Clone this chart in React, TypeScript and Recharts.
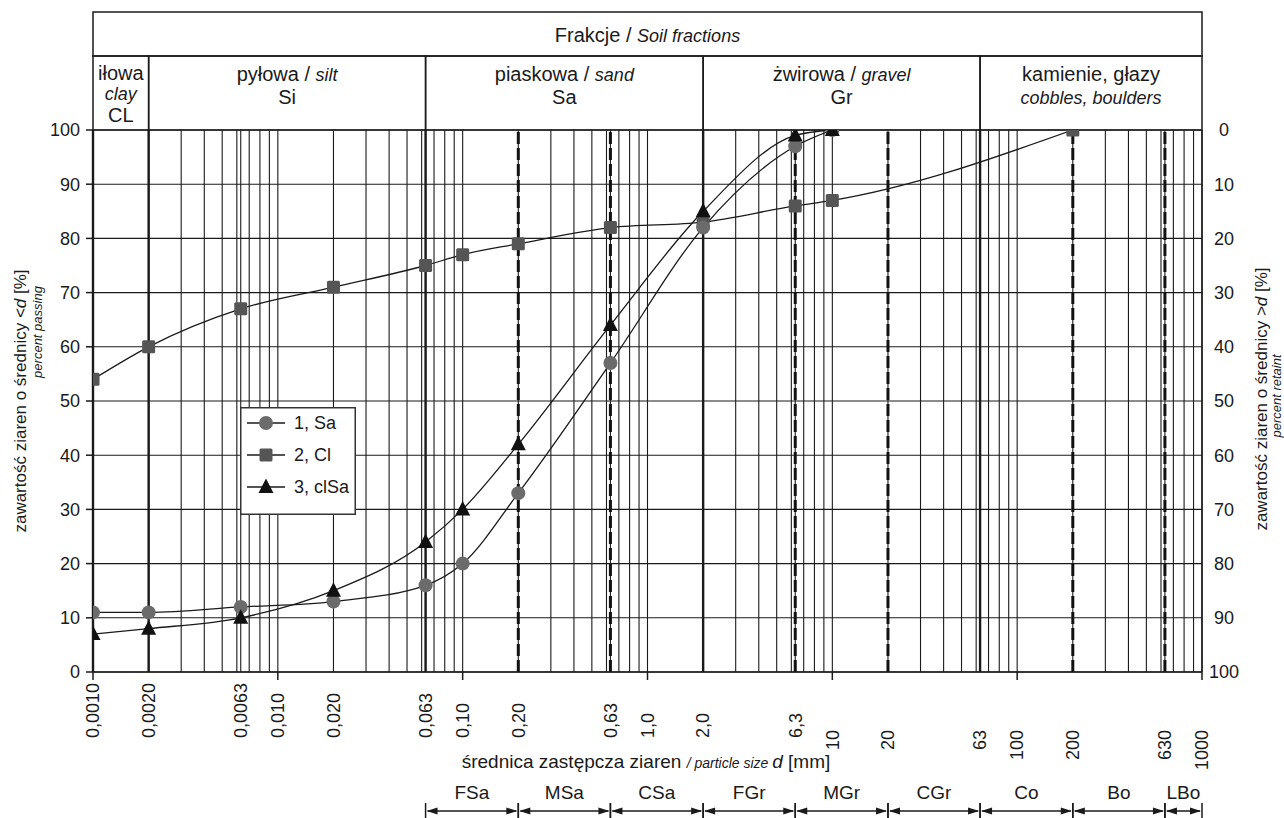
import React from "react";
import { ComposedChart, Line, XAxis, YAxis, CartesianGrid, ReferenceLine, ReferenceArea, Legend } from "recharts";

const FONT = "'Liberation Sans', Arial, Helvetica, sans-serif";
const INK = "#1a1a1a";

// particle size d [mm] and percent passing, one pair of arrays per sample
const sizes1 = [0.001, 0.002, 0.0063, 0.02, 0.063, 0.1, 0.2, 0.63, 2, 6.3, 10];
const passing1 = [11, 11, 12, 13, 16, 20, 33, 57, 82, 97, 100];

const sizes2 = [0.001, 0.002, 0.0063, 0.02, 0.063, 0.1, 0.2, 0.63, 2, 6.3, 10, 200];
const passing2 = [54, 60, 67, 71, 75, 77, 79, 82, 83, 86, 87, 100];

const sizes3 = [0.001, 0.002, 0.0063, 0.02, 0.063, 0.1, 0.2, 0.63, 2, 6.3, 10];
const passing3 = [7, 8, 10, 15, 24, 30, 42, 64, 85, 99, 100];

const seriesNames = ["1, Sa", "2, Cl", "3, clSa"];

// x axis labels
const tickValues = [0.001, 0.002, 0.0063, 0.01, 0.02, 0.063, 0.1, 0.2, 0.63, 1, 2, 6.3, 10, 20, 63, 100, 200, 630, 1000];
const tickLabels = ["0,0010", "0,0020", "0,0063", "0,010", "0,020", "0,063", "0,10", "0,20", "0,63", "1,0", "2,0", "6,3", "10", "20", "63", "100", "200", "630", "1000"];
const decadeValues = [0.001, 0.01, 0.1, 1, 10, 100, 1000];
const decadeSteps = [1, 2, 3, 4, 5, 6, 7, 8, 9];
const percentTicks = [0, 10, 20, 30, 40, 50, 60, 70, 80, 90, 100];

// soil fraction table (header) and sub-fractions (footer)
const fractionBounds = [0.001, 0.002, 0.063, 2, 63, 1000];
const fractionLabels: [string, string][][] = [
  [["iłowa", ""], ["", "clay"], ["CL", ""]],
  [["pyłowa / ", "silt"], ["Si", ""]],
  [["piaskowa / ", "sand"], ["Sa", ""]],
  [["żwirowa / ", "gravel"], ["Gr", ""]],
  [["kamienie, głazy", ""], ["", "cobbles, boulders"]],
];
const subBounds = [0.063, 0.2, 0.63, 2, 6.3, 20, 63, 200, 630, 1000];
const subLabels = ["FSa", "MSa", "CSa", "FGr", "MGr", "CGr", "Co", "Bo", "LBo"];
const dashedValues = [0.2, 0.63, 6.3, 20, 200, 630];

const gridValues = decadeValues
  .slice(0, 6)
  .flatMap((d) => decadeSteps.map((k) => +(k * d).toPrecision(3)))
  .concat([1000]);
const allTicks = Array.from(new Set([...gridValues, ...tickValues])).sort((a, b) => a - b);

const toRows = (xs: number[], ys: number[]) => xs.map((d, i) => ({ d, p: ys[i] }));
const data1 = toRows(sizes1, passing1);
const data2 = toRows(sizes2, passing2);
const data3 = toRows(sizes3, passing3);

const same = (a: number, b: number) => Math.abs(a - b) / b < 1e-6;

function Marker({ kind, cx, cy }: { kind: number; cx: number; cy: number }) {
  if (kind === 0) return <circle cx={cx} cy={cy} r={7} fill="#6b6b6b" />;
  if (kind === 1) return <rect x={cx - 6.5} y={cy - 6.5} width={13} height={13} rx={1.5} fill="#555" />;
  return <path d={`M${cx},${cy - 8.5} L${cx + 7.5},${cy + 6} L${cx - 7.5},${cy + 6} Z`} fill="#111" />;
}

const XTick = (p: any) => {
  const { x, y, payload } = p;
  const v = payload.value;
  const i = tickValues.findIndex((t) => same(v, t));
  const decade = decadeValues.some((t) => same(v, t));
  const ty = v < 10 ? y + 66 : y + 58;
  return (
    <g>
      {decade && <line x1={x} x2={x} y1={y} y2={y + 8} stroke={INK} strokeWidth={1.5} />}
      {i >= 0 && (
        <text
          x={x}
          y={ty}
          dy="0.35em"
          transform={`rotate(-90 ${x} ${ty})`}
          textAnchor={v < 10 ? "start" : "end"}
          fontSize={18}
          fontFamily={FONT}
          fill={INK}
        >
          {tickLabels[i]}
        </text>
      )}
    </g>
  );
};

const LeftTick = (p: any) => (
  <g>
    <line x1={p.x - 7} x2={p.x} y1={p.y} y2={p.y} stroke={INK} strokeWidth={1.5} />
    <text x={p.x - 13} y={p.y} dy="0.36em" textAnchor="end" fontSize={18} fontFamily={FONT} fill={INK}>
      {p.payload.value}
    </text>
  </g>
);

const RightTick = (p: any) => (
  <text x={p.x + 22} y={p.y} dy="0.36em" textAnchor="middle" fontSize={18} fontFamily={FONT} fill={INK}>
    {p.payload.value}
  </text>
);

const headerCell = (i: number) => (p: any) => {
  const { x, y, width } = p;
  const top = y - 74;
  const lines = fractionLabels[i];
  const base = lines.length === 3 ? [24, 44, 66] : [25, 48];
  return (
    <g>
      <rect x={x} y={top} width={width} height={74} fill="none" stroke={INK} strokeWidth={1.5} />
      {lines.map(([n, it], j) => (
        <text key={j} x={x + width / 2} y={top + base[j]} textAnchor="middle" fontSize={20} fontFamily={FONT} fill={INK}>
          {n}
          {it && (
            <tspan fontStyle="italic" fontSize={18}>
              {it}
            </tspan>
          )}
        </text>
      ))}
    </g>
  );
};

const titleCell = (p: any) => {
  const { x, y, width } = p;
  const top = y - 118;
  return (
    <g>
      <rect x={x} y={top} width={width} height={44} fill="none" stroke={INK} strokeWidth={1.5} />
      <text x={x + width / 2} y={top + 30} textAnchor="middle" fontSize={20} fontFamily={FONT} fill={INK}>
        Frakcje / <tspan fontStyle="italic" fontSize={18}>Soil fractions</tspan>
      </text>
    </g>
  );
};

const subCell = (i: number) => (p: any) => {
  const { x, y, width, height } = p;
  const ay = y + height + 139;
  const r = x + width;
  return (
    <g stroke={INK} fill={INK}>
      <line x1={x} x2={x} y1={ay - 8} y2={ay + 7} strokeWidth={1.5} />
      <line x1={r} x2={r} y1={ay - 8} y2={ay + 7} strokeWidth={1.5} />
      <line x1={x + 2} x2={r - 2} y1={ay} y2={ay} strokeWidth={1.3} />
      <path d={`M${x + 1},${ay} L${x + 12},${ay - 3.5} L${x + 12},${ay + 3.5} Z`} stroke="none" />
      <path d={`M${r - 1},${ay} L${r - 12},${ay - 3.5} L${r - 12},${ay + 3.5} Z`} stroke="none" />
      <text x={x + width / 2} y={ay - 12} textAnchor="middle" fontSize={19} fontFamily={FONT} stroke="none">
        {subLabels[i]}
      </text>
    </g>
  );
};

const LegendBox = () => (
  <svg width={116} height={108} style={{ display: "block" }}>
    <rect x={0.75} y={0.75} width={114.5} height={106.5} fill="#fff" stroke="#333" strokeWidth={1.5} />
    {seriesNames.map((n, i) => {
      const cy = 16 + i * 32;
      return (
        <g key={n}>
          <line x1={7} x2={45} y1={cy} y2={cy} stroke={INK} strokeWidth={1.3} />
          <Marker kind={i} cx={26} cy={cy} />
          <text x={54} y={cy} dy="0.36em" fontSize={18} fontFamily={FONT} fill={INK}>
            {n}
          </text>
        </g>
      );
    })}
  </svg>
);

const XTitle = () => (
  <text x={646} y={768} textAnchor="middle" fontSize={19} fontFamily={FONT} fill={INK}>
    średnica zastępcza ziaren <tspan fontStyle="italic" fontSize={14}>/ particle size </tspan>
    <tspan fontStyle="italic">d</tspan> [mm]
  </text>
);

const LeftTitle = () => (
  <g fontFamily={FONT} fill={INK}>
    <text x={26} y={401} transform="rotate(-90 26 401)" textAnchor="middle" fontSize={17}>
      zawartość ziaren o średnicy <tspan fontStyle="italic">&lt;d</tspan> [%]
    </text>
    <text x={42} y={332} transform="rotate(-90 42 332)" textAnchor="middle" fontSize={13} fontStyle="italic">
      percent passing
    </text>
  </g>
);

const RightTitle = () => (
  <g fontFamily={FONT} fill={INK}>
    <text x={1267} y={399} transform="rotate(-90 1267 399)" textAnchor="middle" fontSize={17}>
      zawartość ziaren o średnicy <tspan fontStyle="italic">&gt;d</tspan> [%]
    </text>
    <text x={1281} y={396} transform="rotate(-90 1281 396)" textAnchor="middle" fontSize={13} fontStyle="italic">
      percent retaint
    </text>
  </g>
);

const lineDot = (kind: number) => (p: any) => <Marker key={p.index} kind={kind} cx={p.cx} cy={p.cy} />;

export default function App() {
  return (
    <div style={{ position: "absolute", left: 0, top: 0, width: 1284, height: 818, background: "#fff" }}>
      <ComposedChart width={1284} height={818} margin={{ top: 130, right: 0, bottom: 0, left: 0 }}>
        <CartesianGrid stroke={INK} strokeWidth={1.1} />
        <XAxis
          dataKey="d"
          type="number"
          scale="log"
          domain={[0.001, 1000]}
          allowDataOverflow
          ticks={allTicks}
          interval={0}
          tick={XTick}
          tickLine={false}
          tickSize={0}
          tickMargin={0}
          height={146}
          axisLine={{ stroke: INK, strokeWidth: 1.5 }}
          label={{ content: XTitle }}
        />
        <YAxis
          type="number"
          domain={[0, 100]}
          allowDataOverflow
          ticks={percentTicks}
          interval={0}
          tick={LeftTick}
          tickLine={false}
          tickSize={0}
          tickMargin={0}
          axisLine={false}
          width={93}
          label={{ content: LeftTitle }}
        />
        <YAxis
          yAxisId="r"
          orientation="right"
          type="number"
          domain={[0, 100]}
          reversed
          allowDataOverflow
          ticks={percentTicks}
          interval={0}
          tick={RightTick}
          tickLine={false}
          tickSize={0}
          tickMargin={0}
          axisLine={false}
          width={82}
          label={{ content: RightTitle }}
        />

        {dashedValues.map((v) => (
          <ReferenceLine key={`d${v}`} x={v} stroke="#111" strokeWidth={3} strokeDasharray="12 4" />
        ))}
        {fractionBounds.map((v) => (
          <ReferenceLine key={`b${v}`} x={v} stroke={INK} strokeWidth={v === 1000 ? 1.5 : 2.4} />
        ))}

        <ReferenceArea x1={0.001} x2={1000} y1={0} y2={100} fill="none" shape={titleCell} />
        {fractionLabels.map((_, i) => (
          <ReferenceArea
            key={`f${i}`}
            x1={fractionBounds[i]}
            x2={fractionBounds[i + 1]}
            y1={0}
            y2={100}
            fill="none"
            shape={headerCell(i)}
          />
        ))}
        {subLabels.map((s, i) => (
          <ReferenceArea key={s} x1={subBounds[i]} x2={subBounds[i + 1]} y1={0} y2={100} fill="none" shape={subCell(i)} />
        ))}

        <Line
          data={data2}
          dataKey="p"
          name={seriesNames[1]}
          type="monotone"
          stroke={INK}
          strokeWidth={1.3}
          dot={lineDot(1)}
          activeDot={false}
          isAnimationActive={false}
        />
        <Line
          data={data1}
          dataKey="p"
          name={seriesNames[0]}
          type="monotone"
          stroke={INK}
          strokeWidth={1.3}
          dot={lineDot(0)}
          activeDot={false}
          isAnimationActive={false}
        />
        <Line
          data={data3}
          dataKey="p"
          name={seriesNames[2]}
          type="monotone"
          stroke={INK}
          strokeWidth={1.3}
          dot={lineDot(2)}
          activeDot={false}
          isAnimationActive={false}
        />
        <Legend
          layout="vertical"
          align="center"
          verticalAlign="middle"
          wrapperStyle={{ left: 240, top: 407, width: 116, height: 108 }}
          content={() => <LegendBox />}
        />
      </ComposedChart>
    </div>
  );
}
